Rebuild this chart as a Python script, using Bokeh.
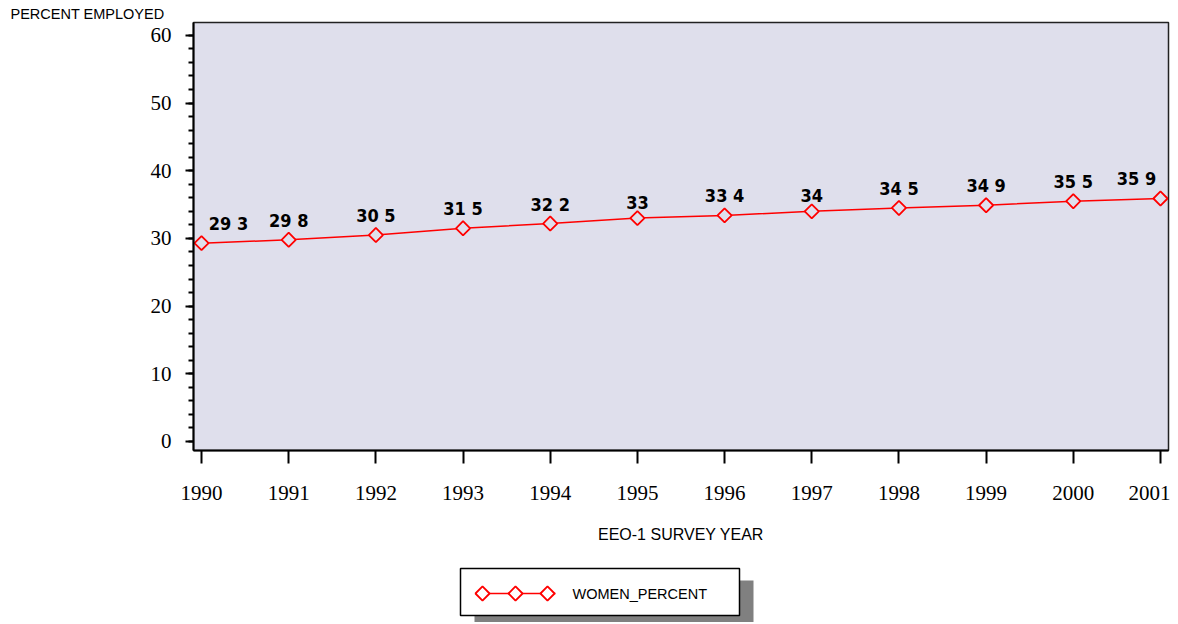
import math
from bokeh.plotting import figure
from bokeh.models import (SingleIntervalTicker, Range1d, ColumnDataSource, Spacer)
from bokeh.layouts import column, row
from bokeh.core.properties import value
from bokeh.embed import file_html
from bokeh.resources import INLINE

# ---- data ----
years = [1990, 1991, 1992, 1993, 1994, 1995, 1996, 1997, 1998, 1999, 2000, 2001]
women_percent = [29.3, 29.8, 30.5, 31.5, 32.2, 33.0, 33.4, 34.0, 34.5, 34.9, 35.5, 35.9]
series_name = "WOMEN_PERCENT"
y_title = "PERCENT EMPLOYED"
x_title = "EEO-1 SURVEY YEAR"

labels = [f"{v:g}".replace(".", " ") for v in women_percent]
label_dx = [0] * len(years)
label_dx[0] = 27
label_dx[-1] = -24

RED = "#ff0000"
BG = "#dfdfec"
SERIF = "Liberation Serif"
SANS = "Liberation Sans"
COND = "'DejaVu Sans Condensed', 'Liberation Sans Narrow', 'Roboto Condensed', Roboto, sans-serif"

# ---- main plot ----
p = figure(frame_width=975, frame_height=428,
           x_range=Range1d(1989.908, 2001.092), y_range=Range1d(-1.33, 61.9),
           output_backend="svg", toolbar_location=None,
           min_border_left=193, min_border_top=22, min_border_right=2, min_border_bottom=110)
p.background_fill_color = BG
p.border_fill_color = "white"
p.grid.visible = False
p.outline_line_color = "#222222"
p.outline_line_width = 1.5

p.title.text = y_title
p.title.align = "left"
p.title.offset = -183
p.title.standoff = 1
p.title.text_font = SANS
p.title.text_font_style = "normal"
p.title.text_font_size = "14.5px"
p.title.text_color = "black"

xa = p.xaxis[0]
xa.ticker = SingleIntervalTicker(interval=1, num_minor_ticks=0)
xa.axis_line_width = 2
xa.major_tick_out = 13
xa.major_tick_in = 0
xa.major_tick_line_width = 2
xa.minor_tick_line_color = None
xa.major_label_standoff = 22
xa.major_label_text_font = SERIF
xa.major_label_text_font_size = "21px"
xa.major_label_text_color = "black"
xa.axis_label = x_title
xa.axis_label_text_font = SANS
xa.axis_label_text_font_style = "normal"
xa.axis_label_text_font_size = "16px"
xa.axis_label_text_color = "black"
xa.axis_label_standoff = 23

ya = p.yaxis[0]
ya.ticker = SingleIntervalTicker(interval=10, num_minor_ticks=5)
ya.axis_line_width = 2
ya.major_tick_out = 8
ya.major_tick_in = 0
ya.major_tick_line_width = 2
ya.minor_tick_out = 5
ya.minor_tick_in = 0
ya.minor_tick_line_width = 2
ya.major_label_standoff = 14
ya.major_label_text_font = SERIF
ya.major_label_text_font_size = "21px"
ya.major_label_text_color = "black"

src = ColumnDataSource(dict(x=years, y=women_percent, lab=labels, dx=label_dx))
p.line("x", "y", source=src, line_color=RED, line_width=1.5)
p.scatter("x", "y", source=src, marker="square", angle=math.pi / 4, size=10,
          line_color=RED, line_width=1.8, fill_color=BG)
p.text("x", "y", text="lab", source=src, x_offset="dx", y_offset=-9,
       text_align="center", text_baseline="bottom",
       text_font=value(COND), text_font_style="bold",
       text_font_size="18px", text_color="black")

# ---- legend box ----
lg = figure(frame_width=310, frame_height=62, x_range=Range1d(0, 310), y_range=Range1d(62, 0),
            output_backend="svg", toolbar_location=None, min_border=0,
            x_axis_type=None, y_axis_type=None)
lg.outline_line_color = None
lg.grid.visible = False
lg.background_fill_color = "white"
lg.quad(left=[22], right=[301], top=[20], bottom=[65], fill_color="#808080", line_color=None)
lg.quad(left=[8], right=[287], top=[8], bottom=[55], fill_color="white",
        line_color="black", line_width=1.5)
lg.line([23, 103], [33, 33], line_color=RED, line_width=1.5)
lg.scatter([30, 63, 95], [33, 33, 33], marker="square", angle=math.pi / 4, size=10,
           line_color=RED, line_width=1.8, fill_color="white")
lg.text([120], [33], text=[series_name], text_font=value(SANS), text_font_size="14.5px",
        text_baseline="middle", text_align="left", text_color="black")

layout = column(p, row(Spacer(width=452, height=62), lg))
open("out.html", "w").write(file_html(layout, INLINE))
